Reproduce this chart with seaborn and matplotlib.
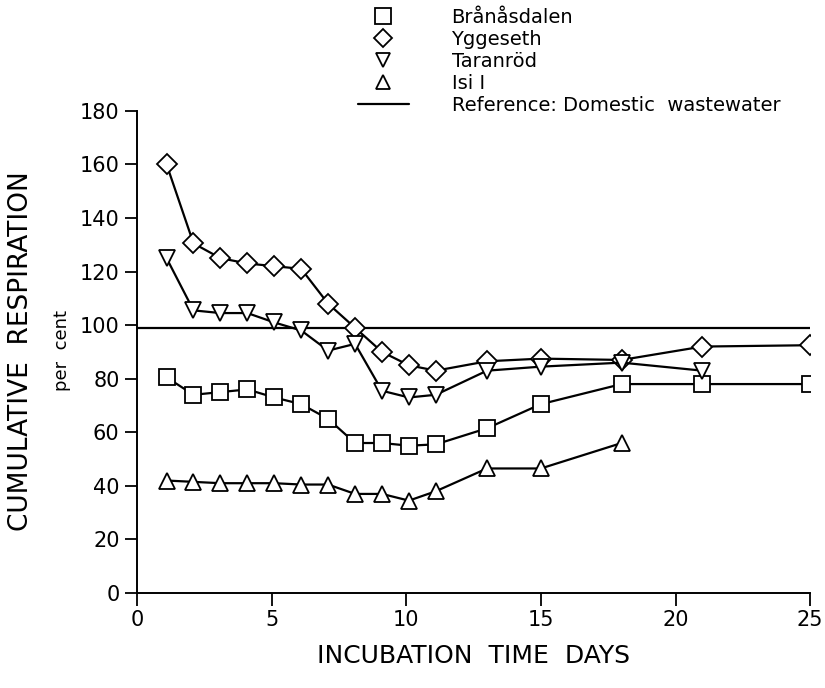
import numpy as np
import pandas as pd
import matplotlib
matplotlib.use("Agg")
import matplotlib.pyplot as plt
import seaborn as sns
from matplotlib.lines import Line2D

# 데이터
days_a = [1.1, 2.1, 3.1, 4.1, 5.1, 6.1, 7.1, 8.1, 9.1, 10.1, 11.1, 13, 15, 18, 21, 25]
branasdalen = [80.5, 74, 75, 76, 73, 70.5, 65, 56, 56, 55, 55.5, 61.5, 70.5, 78, 78, 78]
yggeseth = [160, 130.5, 125, 123, 122, 121, 108, 99, 90, 85, 83, 86.5, 87.5, 87, 92, 92.5]

days_t = [1.1, 2.1, 3.1, 4.1, 5.1, 6.1, 7.1, 8.1, 9.1, 10.1, 11.1, 13, 15, 18, 21]
taranrod = [125, 105.5, 104.5, 104.5, 101, 98, 90.5, 93, 75.5, 73, 74, 83, 84.5, 86, 83]

days_i = [1.1, 2.1, 3.1, 4.1, 5.1, 6.1, 7.1, 8.1, 9.1, 10.1, 11.1, 13, 15, 18]
isi = [42, 41.5, 41, 41, 41, 40.5, 40.5, 37, 37, 34.5, 38, 46.5, 46.5, 56]

reference_value = 99

series = [
    ("Brånåsdalen", days_a, branasdalen, "s"),
    ("Yggeseth", days_a, yggeseth, "D"),
    ("Taranröd", days_t, taranrod, "v"),
    ("Isi I", days_i, isi, "^"),
]

sns.set_style("ticks")
plt.rcParams["font.family"] = ["DejaVu Sans"]
plt.rcParams["text.color"] = "black"
plt.rcParams["axes.labelcolor"] = "black"

fig = plt.figure(figsize=(8.25, 6.88), dpi=100)
ax = fig.add_axes([0.166, 0.138, 0.816, 0.701])

ax.axhline(reference_value, color="black", linewidth=1.6, zorder=1)

msize = {"s": 12, "D": 10, "v": 11, "^": 11}
for name, x, y, m in series:
    df = pd.DataFrame({"day": x, "value": y})
    sns.lineplot(data=df, x="day", y="value", ax=ax, color="black",
                 linewidth=1.6, marker=m, markersize=msize[m],
                 markerfacecolor="white", markeredgecolor="black",
                 markeredgewidth=1.3, zorder=3)

ax.set_xlim(0, 25)
ax.set_ylim(0, 180)
ax.set_xticks([0, 5, 10, 15, 20, 25])
ax.set_yticks(np.arange(0, 181, 20))
ax.tick_params(direction="out", length=9, width=1.3, labelsize=15, colors="black")
for s in ["top", "right"]:
    ax.spines[s].set_visible(False)
for s in ["left", "bottom"]:
    ax.spines[s].set_linewidth(1.4)
    ax.spines[s].set_color("black")

ax.set_xlabel("INCUBATION  TIME  DAYS", fontsize=18, labelpad=10, color="black")
ax.set_ylabel("")
fig.text(0.026, 0.49, "CUMULATIVE  RESPIRATION", rotation=90, fontsize=19,
         ha="center", va="center", color="black")
fig.text(0.075, 0.49, "per  cent", rotation=90, fontsize=13,
         ha="center", va="center", color="black")

handles = [Line2D([], [], linestyle="none", marker=m, markersize=msize[m] - 1,
                  markerfacecolor="white", markeredgecolor="black",
                  markeredgewidth=1.3) for _, _, _, m in series]
handles.append(Line2D([], [], color="black", linewidth=1.6))
labels = [s[0] for s in series] + ["Reference: Domestic  wastewater"]
fig.legend(handles, labels, loc="upper left", bbox_to_anchor=(0.42, 1.005),
           frameon=False, fontsize=14, handlelength=2.6, handletextpad=2.2,
           labelspacing=0.15, borderaxespad=0.2, labelcolor="black")

fig.savefig("out.png", dpi=100)
